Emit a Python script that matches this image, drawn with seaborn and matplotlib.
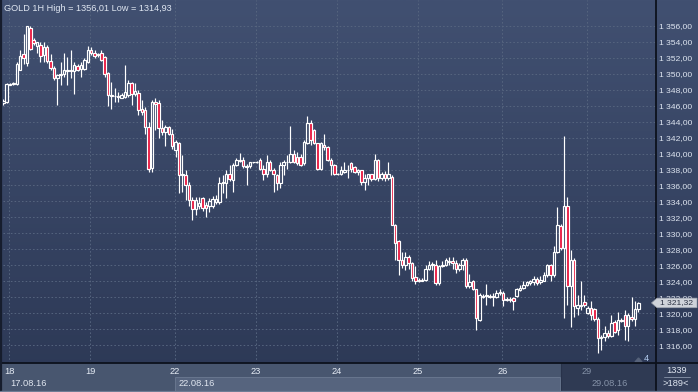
import numpy as np
import pandas as pd
import matplotlib
matplotlib.use('Agg')
import matplotlib.pyplot as plt
import matplotlib.patches as mpatches
import matplotlib.transforms as mtransforms
from matplotlib.colors import LinearSegmentedColormap
from matplotlib.lines import Line2D
from matplotlib import font_manager
from matplotlib.ticker import FuncFormatter
import seaborn as sns

# ── Data: GOLD hourly candles ────────────────────────────────────────────────
OPENS = [
    1346.3, 1346.4, 1348.6, 1348.7, 1348.7, 1350.5, 1352.4, 1351.3, 1355.7, 1354.2,
    1353.5, 1353.6, 1352.3, 1353.3, 1351.6, 1350.7, 1349.4, 1349.8, 1349.9, 1350.3,
    1350.4, 1350.3, 1351.0, 1350.6, 1350.6, 1351.5, 1352.9, 1352.6, 1352.3, 1352.6,
    1352.1, 1350.1, 1347.3, 1347.2, 1347.2, 1347.0, 1347.1, 1347.3, 1348.8, 1347.4,
    1347.6, 1345.6, 1345.4, 1343.3, 1338.2, 1346.4, 1346.3, 1343.2, 1342.7, 1343.3,
    1342.5, 1340.4, 1341.3, 1337.3, 1337.3, 1336.1, 1334.2, 1333.0, 1333.4, 1334.4,
    1333.6, 1333.4, 1333.4, 1333.9, 1333.9, 1336.3, 1336.3, 1337.4, 1336.7, 1338.6,
    1339.2, 1339.2, 1338.3, 1338.5, 1338.9, 1338.9, 1339.2, 1338.1, 1337.5, 1339.0,
    1338.0, 1337.3, 1336.3, 1338.6, 1338.9, 1339.0, 1340.0, 1339.6, 1339.6, 1338.8,
    1341.3, 1343.8, 1343.0, 1341.3, 1338.1, 1341.1, 1340.8, 1339.2, 1338.6, 1337.4,
    1337.5, 1337.7, 1338.0, 1338.8, 1338.3, 1337.7, 1337.9, 1336.5, 1336.9, 1337.4,
    1336.8, 1339.2, 1336.9, 1337.5, 1336.9, 1337.1, 1331.1, 1329.0, 1326.7, 1326.0,
    1327.0, 1326.3, 1324.5, 1324.2, 1324.1, 1324.2, 1325.6, 1326.0, 1326.1, 1323.8,
    1325.9, 1326.0, 1326.4, 1326.6, 1326.3, 1325.5, 1326.1, 1326.7, 1323.4, 1324.0,
    1323.0, 1319.2, 1322.2, 1322.2, 1322.1, 1322.2, 1322.0, 1322.5, 1322.6, 1321.7,
    1321.8, 1321.9, 1322.2, 1322.9, 1323.2, 1323.6, 1323.8, 1323.9, 1324.3, 1323.9,
    1324.1, 1324.8, 1326.1, 1324.8, 1327.7, 1330.9, 1328.2, 1333.4, 1323.4, 1326.7,
    1320.7, 1320.9, 1321.4, 1320.0, 1320.7, 1320.5, 1319.3, 1316.9, 1317.1, 1317.6,
    1317.2, 1318.9, 1317.9, 1319.2, 1319.8, 1318.4, 1319.6, 1319.3, 1320.5,
]
HIGHS = [
    1346.8, 1348.8, 1348.8, 1348.9, 1351.4, 1352.9, 1354.9, 1356.0, 1356.0, 1354.4,
    1354.0, 1354.0, 1354.0, 1353.6, 1352.4, 1350.9, 1350.0, 1351.5, 1352.6, 1352.1,
    1352.9, 1351.4, 1351.2, 1351.4, 1352.0, 1353.4, 1353.3, 1352.9, 1352.6, 1352.9,
    1352.2, 1350.2, 1349.0, 1348.2, 1347.7, 1347.6, 1351.1, 1349.2, 1349.0, 1348.8,
    1347.9, 1346.7, 1345.8, 1344.0, 1346.7, 1346.9, 1346.7, 1344.2, 1343.6, 1343.4,
    1343.1, 1341.7, 1341.5, 1339.8, 1337.9, 1336.5, 1334.6, 1334.6, 1334.6, 1334.6,
    1333.9, 1334.4, 1334.7, 1334.8, 1337.1, 1337.3, 1337.9, 1338.6, 1338.8, 1339.5,
    1340.1, 1339.6, 1338.7, 1339.0, 1339.0, 1339.1, 1339.5, 1338.6, 1339.8, 1339.2,
    1338.2, 1337.4, 1339.0, 1339.2, 1339.8, 1343.4, 1340.4, 1340.2, 1340.0, 1341.7,
    1344.7, 1344.2, 1343.1, 1341.3, 1341.4, 1342.4, 1341.0, 1339.4, 1338.7, 1337.6,
    1338.4, 1339.0, 1338.6, 1339.0, 1338.4, 1338.1, 1338.0, 1337.5, 1337.5, 1337.5,
    1340.0, 1339.3, 1337.7, 1337.8, 1339.0, 1337.3, 1331.2, 1329.2, 1327.7, 1327.7,
    1327.3, 1326.4, 1325.9, 1324.4, 1324.4, 1326.0, 1326.5, 1326.4, 1326.7, 1326.1,
    1326.5, 1326.9, 1327.0, 1327.0, 1326.7, 1326.3, 1326.9, 1326.9, 1324.9, 1324.2,
    1323.1, 1322.5, 1322.4, 1323.7, 1322.4, 1322.6, 1322.9, 1323.0, 1322.8, 1322.0,
    1322.0, 1322.0, 1323.2, 1323.6, 1324.1, 1324.1, 1324.2, 1324.7, 1324.6, 1324.7,
    1325.2, 1326.2, 1326.2, 1328.4, 1333.3, 1331.2, 1342.2, 1334.6, 1327.9, 1326.9,
    1322.3, 1324.1, 1322.3, 1320.9, 1321.5, 1320.7, 1319.5, 1317.3, 1318.4, 1317.9,
    1319.8, 1319.2, 1320.2, 1319.4, 1320.4, 1320.0, 1322.1, 1321.5, 1321.4,
]
LOWS = [
    1346.1, 1346.3, 1348.6, 1348.6, 1348.6, 1350.4, 1351.2, 1350.9, 1352.9, 1353.6,
    1352.6, 1351.5, 1351.5, 1351.3, 1350.5, 1349.2, 1346.1, 1348.6, 1349.6, 1348.6,
    1349.4, 1347.5, 1350.3, 1349.6, 1350.4, 1351.3, 1352.3, 1351.9, 1352.1, 1351.6,
    1349.6, 1346.0, 1345.6, 1346.4, 1346.5, 1346.9, 1346.9, 1347.1, 1346.1, 1347.2,
    1344.8, 1344.8, 1342.5, 1337.7, 1337.7, 1343.0, 1341.9, 1342.3, 1340.9, 1342.3,
    1340.6, 1339.6, 1335.0, 1335.2, 1334.2, 1333.4, 1331.7, 1332.3, 1333.0, 1332.8,
    1332.1, 1332.7, 1333.2, 1333.7, 1333.7, 1335.0, 1334.4, 1336.6, 1335.2, 1338.4,
    1338.9, 1338.2, 1336.1, 1338.2, 1338.8, 1338.8, 1337.9, 1336.7, 1337.1, 1337.8,
    1335.2, 1335.4, 1335.7, 1337.3, 1338.1, 1338.8, 1338.8, 1338.6, 1338.4, 1338.6,
    1341.2, 1341.1, 1341.2, 1337.9, 1338.0, 1340.4, 1339.1, 1337.3, 1337.3, 1337.3,
    1337.3, 1337.6, 1336.9, 1337.7, 1337.6, 1337.3, 1336.1, 1335.4, 1336.1, 1336.6,
    1336.7, 1336.6, 1336.7, 1336.6, 1336.7, 1331.0, 1326.7, 1324.8, 1325.7, 1325.4,
    1325.6, 1324.0, 1323.7, 1323.9, 1324.0, 1324.0, 1325.4, 1325.4, 1323.5, 1323.6,
    1325.8, 1325.9, 1326.0, 1325.6, 1325.0, 1325.3, 1325.4, 1323.2, 1323.2, 1322.9,
    1317.9, 1319.0, 1321.9, 1321.1, 1321.9, 1320.9, 1321.9, 1322.3, 1320.9, 1321.6,
    1321.4, 1320.4, 1322.0, 1322.8, 1323.1, 1323.4, 1323.6, 1323.6, 1323.6, 1323.7,
    1324.0, 1324.6, 1324.1, 1324.6, 1327.5, 1327.9, 1319.4, 1321.1, 1318.3, 1319.6,
    1319.8, 1320.4, 1320.8, 1319.9, 1319.2, 1319.0, 1315.0, 1315.4, 1316.5, 1316.9,
    1317.0, 1317.5, 1317.3, 1318.9, 1316.7, 1316.6, 1319.0, 1318.4, 1320.2,
]
CLOSES = [
    1346.6, 1348.7, 1348.7, 1348.8, 1351.2, 1352.2, 1351.9, 1355.9, 1353.1, 1353.8,
    1353.9, 1352.2, 1353.3, 1351.6, 1350.7, 1349.4, 1349.8, 1349.9, 1350.4, 1350.4,
    1350.3, 1351.1, 1350.5, 1351.1, 1351.7, 1352.9, 1352.6, 1352.2, 1352.4, 1351.7,
    1350.0, 1347.3, 1347.2, 1347.2, 1347.1, 1347.3, 1347.7, 1348.8, 1347.4, 1347.8,
    1345.4, 1345.2, 1343.3, 1338.1, 1346.4, 1346.2, 1343.2, 1342.7, 1343.3, 1342.5,
    1340.9, 1341.5, 1337.3, 1337.4, 1336.1, 1334.2, 1333.0, 1334.2, 1333.8, 1333.2,
    1333.2, 1334.0, 1334.3, 1334.3, 1336.3, 1336.4, 1337.5, 1336.8, 1338.6, 1339.2,
    1339.1, 1338.4, 1338.5, 1338.9, 1338.9, 1339.0, 1338.1, 1337.5, 1339.0, 1338.0,
    1337.4, 1336.3, 1338.6, 1339.0, 1339.0, 1340.0, 1339.0, 1338.8, 1338.6, 1341.5,
    1343.8, 1341.7, 1341.3, 1338.1, 1341.3, 1340.8, 1339.2, 1338.6, 1337.4, 1337.5,
    1338.0, 1338.0, 1338.0, 1338.1, 1337.7, 1337.9, 1336.4, 1336.9, 1337.4, 1336.8,
    1339.2, 1336.9, 1337.5, 1336.9, 1337.4, 1331.1, 1328.8, 1326.7, 1326.1, 1327.0,
    1326.3, 1324.4, 1324.0, 1324.1, 1324.2, 1325.6, 1326.1, 1326.2, 1323.8, 1325.9,
    1326.1, 1326.7, 1326.6, 1326.3, 1325.5, 1326.1, 1326.7, 1323.4, 1323.9, 1323.0,
    1319.4, 1322.3, 1322.1, 1322.3, 1322.2, 1322.1, 1322.5, 1322.7, 1321.7, 1321.8,
    1321.7, 1321.6, 1323.0, 1323.2, 1323.6, 1323.9, 1324.0, 1324.3, 1323.8, 1324.2,
    1324.8, 1326.1, 1324.8, 1327.7, 1331.1, 1328.2, 1333.4, 1323.4, 1326.7, 1320.9,
    1321.1, 1321.1, 1321.1, 1320.7, 1319.8, 1319.3, 1316.9, 1317.1, 1317.6, 1317.2,
    1318.8, 1317.7, 1319.2, 1319.0, 1318.4, 1319.8, 1319.3, 1320.5, 1321.3,
]

DAY_LABELS  = ['18', '19', '22', '23', '24', '25', '26', '29']
DAY_START   = [2, 26, 51, 75, 99, 123, 148, 173]      # first candle of each day
WEEK_LABELS = ['17.08.16', '22.08.16', '29.08.16']
WEEK_START  = [2, 52, 174]
TITLE       = 'GOLD 1H High = 1356,01 Low = 1314,93'
LAST_PRICE  = 1321.32
BAR_COUNT   = '>189<'
CORNER_TXT  = '1339'
ZOOM_TXT    = '4'

# ── Look ─────────────────────────────────────────────────────────────────────
W, H = 698, 392
BG_TOP, BG_BOTTOM = '#415071', '#2c3855'
GRID_COLOR = '#56657f'
RED        = '#e8173e'
TEXT_COLOR = '#dfe6f1'

sns.set_theme(style='dark')
plt.rcParams['font.family'] = ['Liberation Sans', 'DejaVu Sans']

names = {f.name for f in font_manager.fontManager.ttflist}
if 'Liberation Sans Narrow' in names:
    AXIS_FONT, AXIS_SIZE = 'Liberation Sans Narrow', 7.0
else:
    AXIS_FONT, AXIS_SIZE = 'Liberation Sans', 6.1


def fx(px):
    return px / W


def fy(py):
    return 1 - py / H


df = pd.DataFrame({'open': OPENS, 'high': HIGHS, 'low': LOWS, 'close': CLOSES})
df['idx'] = np.arange(len(df))
df['top'] = df[['open', 'close']].max(axis=1)
df['bot'] = df[['open', 'close']].min(axis=1)
df['down'] = df['close'] < df['open']

fig = plt.figure(figsize=(W / 100, H / 100), dpi=100)

# background gradient for whole figure
bg = fig.add_axes([0, 0, 1, 1], zorder=-10)
bg.axis('off')
cmap = LinearSegmentedColormap.from_list('bg', [BG_TOP, BG_BOTTOM])
bg.imshow(np.linspace(0, 1, 256)[:, None], aspect='auto', cmap=cmap,
          extent=[0, 1, 0, 1])
bg.set_xlim(0, 1)
bg.set_ylim(0, 1)

# ── Main price panel ─────────────────────────────────────────────────────────
ax = fig.add_axes([fx(3), fy(363), fx(655.7) - fx(3), fy(0) - fy(363)])
ax.patch.set_alpha(0)
for s in ax.spines.values():
    s.set_visible(False)

ax.set_xlim(-0.09, 193.14)
ax.set_ylim(1313.81, 1359.19)

yticks = np.arange(1316, 1357, 2)
for p in yticks:
    ax.axhline(p, color=GRID_COLOR, lw=0.7, ls=(0, (1.6, 2.2)), zorder=1)
for d in DAY_START:
    ax.axvline(d - 0.3, color=GRID_COLOR, lw=0.7, ls=(0, (1.6, 2.2)), zorder=1)

# wicks above and below the body
ax.vlines(df['idx'], df['top'], df['high'], color='white', lw=0.85, zorder=2)
ax.vlines(df['idx'], df['low'], df['bot'], color='white', lw=0.85, zorder=2)
# bodies: red for falling, hollow for rising
face = np.where(df['down'], RED, 'none')
ax.bar(df['idx'], df['top'] - df['bot'], bottom=df['bot'], width=0.74,
       color=face, edgecolor='white', linewidth=0.85, zorder=3)

ax.set_xticks([])
ax.yaxis.tick_right()
ax.set_yticks(yticks)
ax.yaxis.set_major_formatter(FuncFormatter(lambda v, _: f'1 {int(round(v)) - 1000:03d},00'))
ax.tick_params(axis='y', length=0, pad=2.4, labelsize=AXIS_SIZE, labelcolor=TEXT_COLOR)
for lbl in ax.get_yticklabels():
    lbl.set_family(AXIS_FONT)
ax.grid(False)

fig.text(fx(4), fy(8.5), TITLE, ha='left', va='center', fontsize=6.6, color=TEXT_COLOR)

# zoom indicator bottom right of plot
fig.add_artist(mpatches.Polygon([(fx(635), fy(362)), (fx(642), fy(362)), (fx(638.5), fy(358))],
                                closed=True, color='#56627a', zorder=4))
fig.text(fx(646.5), fy(358.5), ZOOM_TXT, ha='center', va='center', fontsize=6.7,
         color='#b4cdf0', zorder=4)

# ── Bottom time panel ────────────────────────────────────────────────────────
fig.add_artist(mpatches.Rectangle((0, fy(392)), fx(655.7), fy(363) - fy(392),
                                  color='#48566f', zorder=2))
fig.add_artist(mpatches.Rectangle((fx(175), fy(390.5)), fx(560) - fx(175), fy(376.5) - fy(390.5),
                                  facecolor='#56647e', edgecolor='#6c7a92', lw=0.6, zorder=2))
fig.add_artist(mpatches.Rectangle((fx(561), fy(392)), fx(655.7) - fx(561), fy(363) - fy(392),
                                  facecolor='#2f3a53', edgecolor='#28324a', lw=0.8, zorder=2))
fig.add_artist(mpatches.Rectangle((fx(655.7), fy(392)), fx(698) - fx(655.7), fy(363) - fy(392),
                                  color='#34405b', zorder=2))

# day / week labels: x follows the candle index, y is fixed in figure space
day_tr = mtransforms.blended_transform_factory(ax.transData, fig.transFigure)
for lab, d in zip(DAY_LABELS, DAY_START):
    col = '#8592a8' if lab == DAY_LABELS[-1] else '#e6ecf5'
    fig.text(d - 0.3, fy(371.5), lab, transform=day_tr, ha='center', va='center',
             fontsize=6.7, color=col, zorder=6)
for lab, d in zip(WEEK_LABELS, WEEK_START):
    col = '#8592a8' if lab == WEEK_LABELS[-1] else '#e0e6f0'
    fig.text(d, fy(383.5), lab, transform=day_tr, ha='left', va='center',
             fontsize=6.7, color=col, zorder=6)

fig.text(fx(677), fy(370.5), CORNER_TXT, ha='center', va='center', fontsize=6.7,
         color=TEXT_COLOR, zorder=6)
fig.text(fx(676), fy(383.5), BAR_COUNT, ha='center', va='center', fontsize=6.7,
         color=TEXT_COLOR, zorder=6)
fig.add_artist(Line2D([fx(664), fx(690)], [fy(376.5), fy(376.5)], color='#8a96aa', lw=0.6, zorder=6))

# frame lines
fig.add_artist(Line2D([0, 1], [fy(363), fy(363)], color='#0c111c', lw=1.3, zorder=7))
fig.add_artist(Line2D([fx(655.7), fx(655.7)], [0, 1], color='#0c111c', lw=1.3, zorder=7))
fig.add_artist(Line2D([fx(1.2), fx(1.2)], [0, 1], color='#161d2d', lw=1.6, zorder=7))
fig.add_artist(Line2D([0, 1], [fy(391.3), fy(391.3)], color='#6f7d95', lw=0.9, zorder=7))

# ── Last price marker on the price scale ─────────────────────────────────────
mk_tr = mtransforms.blended_transform_factory(fig.transFigure, ax.transData)
half = 4.8 / 8
fig.add_artist(mpatches.Polygon(
    [(fx(651.5), LAST_PRICE), (fx(657), LAST_PRICE + half), (fx(697), LAST_PRICE + half),
     (fx(697), LAST_PRICE - half), (fx(657), LAST_PRICE - half)],
    closed=True, transform=mk_tr, facecolor='#cfd3da', edgecolor='#9aa1ad', lw=0.5, zorder=8))
fig.text(fx(677), LAST_PRICE, f'1 {LAST_PRICE - 1000:.2f}'.replace('.', ','), transform=mk_tr,
         ha='center', va='center', fontsize=AXIS_SIZE, family=AXIS_FONT,
         color='#2a3142', zorder=9)

fig.savefig('out.png', dpi=100)
